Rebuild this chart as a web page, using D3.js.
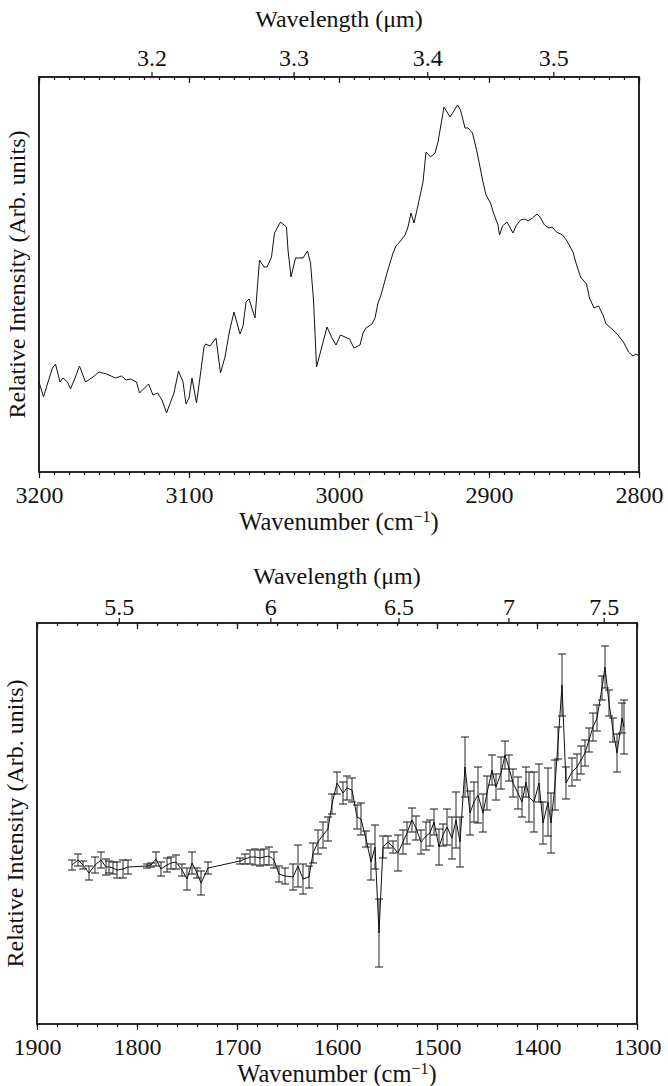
<!DOCTYPE html>
<html>
<head>
<meta charset="utf-8">
<script src="https://cdn.jsdelivr.net/npm/d3@7"></script>
<style>
  body { margin: 0; background: #fff; }
  svg text { font-family: "Liberation Serif", "DejaVu Serif", serif; fill: #111; }
</style>
</head>
<body>
<div id="chart"></div>
<script>
// ---- top panel: C-H stretch region (no error bars)
var chWavenumber = [3200,3197,3194,3191,3189,3186,3184,3181,3179,3176,3173,3169,3164,3160,3155,3149,3145,3142,3139,3135,
  3133,3127,3124,3121,3118,3115,3113,3110,3107,3104,3102,3100,3098,3095,3092,3090,3089,3086,3082,3079,
  3076,3073,3070,3066,3064,3062,3060,3056,3053,3050,3048,3045,3043,3039,3035,3034,3032,3029,3024,3021,
  3019,3017,3015,3012,3008,3005,3002,2999,2996,2993,2990,2986,2984,2982,2978,2976,2974,2972,2970,2968,
  2966,2964,2962,2959,2956,2954,2952,2950,2947,2944,2942,2939,2936,2934,2930,2926,2923,2921,2919,2916,
  2914,2911,2908,2904,2902,2899,2897,2894,2893,2891,2888,2884,2882,2879,2876,2874,2871,2868,2866,2863,
  2860,2858,2855,2851,2848,2844,2842,2839,2835,2833,2830,2827,2824,2822,2818,2814,2810,2807,2804,2802,2800];
var chIntensity = [0.90,0.75,0.90,1.04,1.08,0.90,0.94,0.90,0.83,0.94,1.06,0.90,0.95,1.00,0.98,0.94,0.96,0.92,0.93,0.90,
  0.79,0.88,0.77,0.79,0.72,0.59,0.67,0.79,1.01,0.90,0.68,0.74,0.94,0.69,1.02,1.25,1.28,1.26,1.34,0.99,
  1.15,1.41,1.60,1.38,1.46,1.70,1.73,1.54,2.12,2.05,2.05,2.15,2.39,2.50,2.45,2.22,1.95,2.14,2.14,2.21,
  2.09,1.72,1.05,1.22,1.45,1.35,1.27,1.37,1.35,1.33,1.24,1.27,1.39,1.44,1.48,1.54,1.69,1.77,1.88,1.99,
  2.09,2.19,2.26,2.31,2.37,2.45,2.59,2.49,2.69,2.90,3.20,3.15,3.19,3.30,3.65,3.55,3.62,3.67,3.62,3.44,
  3.44,3.39,3.20,2.90,2.77,2.69,2.59,2.47,2.37,2.46,2.50,2.39,2.46,2.52,2.53,2.51,2.54,2.58,2.55,2.47,
  2.44,2.45,2.40,2.37,2.31,2.20,2.09,1.95,1.88,1.74,1.64,1.66,1.57,1.48,1.43,1.37,1.29,1.20,1.16,1.18,1.16];
var chTicks = [3200,3100,3000,2900,2800];
var chWlTicks = [3.2,3.3,3.4,3.5];

// ---- bottom panel: fingerprint region (with error bars)
var fpWavenumber = [1865,1859,1854,1848,1842,1836,1831,1828,1824,1820,1814,1809,1790,1786,1781,1776,1770,1766,1761,1755,
  1750,1745,1740,1736,1729,1697,1692,1687,1682,1677,1673,1668,1663,1658,1652,1644,1639,1634,1628,1624,
  1619,1614,1609,1605,1600,1594,1590,1585,1580,1576,1571,1566,1562,1558,1554,1549,1544,1539,1534,1530,
  1525,1521,1516,1511,1507,1503,1498,1494,1490,1485,1481,1477,1472,1467,1463,1459,1454,1450,1445,1441,
  1436,1432,1428,1424,1419,1415,1411,1408,1403,1398,1394,1389,1386,1382,1379,1375,1371,1365,1360,1356,
  1352,1348,1344,1340,1335,1332,1328,1324,1320,1315,1313];
var fpIntensity = [1.59,1.64,1.59,1.51,1.59,1.64,1.57,1.57,1.56,1.54,1.55,1.57,1.58,1.59,1.65,1.55,1.59,1.61,1.62,1.54,
  1.45,1.61,1.51,1.41,1.56,1.63,1.65,1.67,1.67,1.66,1.67,1.68,1.64,1.50,1.48,1.47,1.58,1.45,1.47,1.71,
  1.82,1.89,1.95,2.20,2.41,2.31,2.36,2.34,2.07,2.05,1.85,1.62,1.77,0.91,1.77,1.82,1.77,1.71,1.82,1.91,
  2.04,1.96,1.82,1.88,1.91,2.02,1.77,1.89,1.97,1.86,2.04,1.82,2.57,2.11,2.22,2.29,2.11,2.31,2.54,2.37,
  2.51,2.69,2.56,2.41,2.31,2.22,2.42,2.27,2.22,2.41,2.01,2.22,2.01,2.39,2.81,3.39,2.41,2.52,2.57,2.64,
  2.71,2.84,2.97,3.06,3.36,3.57,3.21,2.94,2.71,3.06,2.97];
var fpError = [0.05,0.06,0.04,0.07,0.08,0.08,0.08,0.06,0.06,0.08,0.09,0.07,0.02,0.02,0.07,0.07,0.07,0.06,0.07,0.06,
  0.11,0.11,0.05,0.12,0.06,0.03,0.05,0.07,0.08,0.08,0.08,0.09,0.08,0.08,0.08,0.13,0.21,0.15,0.11,0.10,
  0.12,0.13,0.12,0.10,0.11,0.11,0.12,0.12,0.12,0.16,0.08,0.18,0.22,0.34,0.11,0.06,0.06,0.18,0.12,0.11,
  0.12,0.12,0.12,0.14,0.13,0.13,0.18,0.11,0.18,0.21,0.28,0.25,0.30,0.22,0.20,0.28,0.19,0.17,0.15,0.13,
  0.16,0.14,0.13,0.14,0.16,0.15,0.15,0.25,0.30,0.19,0.21,0.34,0.30,0.25,0.16,0.31,0.16,0.14,0.13,0.14,
  0.13,0.12,0.14,0.13,0.12,0.21,0.13,0.12,0.19,0.15,0.27];
var fpTicks = [1900,1800,1700,1600,1500,1400,1300];
var fpWlTicks = [5.5,6,6.5,7,7.5];

var W = 668, H = 1086;
var FONT = '"Liberation Serif", "DejaVu Serif", serif';
var svg = d3.select("#chart").append("svg")
    .attr("width", W)
    .attr("height", H)
    .attr("font-family", FONT);

function drawPanel(p) {
  var x = d3.scaleLinear().domain(p.xDomain).range([p.left, p.right]);
  var y = d3.scaleLinear().domain([0, p.yMax]).range([p.bottom, p.top]);
  // wavelength (um) = 10000 / wavenumber, so a pow scale with exponent -1 is linear in wavenumber
  var wl = d3.scalePow().exponent(-1)
      .domain([10000 / p.xDomain[0], 10000 / p.xDomain[1]])
      .range([p.left, p.right]);

  var g = svg.append("g");
  var minor = d3.range(p.xDomain[0], p.xDomain[1] - 0.1, -p.minorStep);

  // bottom axis, minor + major, ticks pointing out
  g.append("g").attr("class", "axis")
    .attr("transform", "translate(0," + p.bottom + ")")
    .call(d3.axisBottom(x).tickValues(minor).tickSize(3).tickFormat(""));
  g.append("g").attr("class", "axis")
    .attr("transform", "translate(0," + p.bottom + ")")
    .call(d3.axisBottom(x).tickValues(p.ticks).tickSize(6).tickPadding(8).tickFormat(d3.format("d")));

  // same wavenumber ticks mirrored inside the top edge
  g.append("g").attr("class", "axis")
    .attr("transform", "translate(0," + p.top + ")")
    .call(d3.axisBottom(x).tickValues(minor).tickSize(3).tickFormat(""));
  g.append("g").attr("class", "axis")
    .attr("transform", "translate(0," + p.top + ")")
    .call(d3.axisBottom(x).tickValues(p.ticks).tickSize(6).tickFormat(""));

  // wavelength axis on top
  g.append("g").attr("class", "axis")
    .attr("transform", "translate(0," + p.top + ")")
    .call(d3.axisTop(wl).tickValues(p.wlTicks).tickSize(5).tickPadding(p.wlPad).tickFormat(function(d) { return d; }));

  g.selectAll(".axis").attr("font-family", FONT);
  g.selectAll(".axis .domain").remove();
  g.selectAll(".axis line").attr("stroke", "#111").attr("stroke-width", 1.2);
  g.selectAll(".axis text").attr("font-size", 24).attr("fill", "#111");

  // frame
  g.append("rect")
    .attr("x", p.left).attr("y", p.top)
    .attr("width", p.right - p.left).attr("height", p.bottom - p.top)
    .attr("fill", "none").attr("stroke", "#111").attr("stroke-width", 1.8);

  var data = p.wn.map(function(d, i) {
    return { wn: d, v: p.val[i], e: p.err ? p.err[i] : 0 };
  });

  if (p.err) {
    var eb = g.append("g").attr("stroke", "#3a3a3a").attr("stroke-width", 1.1);
    eb.selectAll(".bar").data(data).enter().append("line")
      .attr("x1", function(d) { return x(d.wn); })
      .attr("x2", function(d) { return x(d.wn); })
      .attr("y1", function(d) { return y(d.v - d.e); })
      .attr("y2", function(d) { return y(d.v + d.e); });
    [-1, 1].forEach(function(s) {
      eb.selectAll(".cap" + s).data(data).enter().append("line")
        .attr("stroke", "#2a2a2a")
        .attr("x1", function(d) { return x(d.wn) - 4; })
        .attr("x2", function(d) { return x(d.wn) + 4; })
        .attr("y1", function(d) { return y(d.v + s * d.e); })
        .attr("y2", function(d) { return y(d.v + s * d.e); });
    });
  }

  g.append("path")
    .datum(data)
    .attr("fill", "none")
    .attr("stroke", "#111")
    .attr("stroke-width", 1)
    .attr("d", d3.line()
      .x(function(d) { return x(d.wn); })
      .y(function(d) { return y(d.v); }));

  // titles
  var cx = (p.left + p.right) / 2;
  g.append("text").attr("x", cx).attr("y", p.top - p.titleGap)
    .attr("text-anchor", "middle").attr("font-size", 24)
    .text("Wavelength (\u03bcm)");
  var xt = g.append("text").attr("x", cx).attr("y", p.bottom + 58)
    .attr("text-anchor", "middle").attr("font-size", 24.5);
  xt.append("tspan").text("Wavenumber (cm");
  xt.append("tspan").attr("dy", -8).attr("font-size", 16).text("\u22121");
  xt.append("tspan").attr("dy", 8).text(")");
  g.append("text")
    .attr("transform", "translate(" + (p.left - 14) + "," + ((p.top + p.bottom) / 2) + ") rotate(-90)")
    .attr("text-anchor", "middle").attr("font-size", 24)
    .text("Relative Intensity (Arb. units)");
}

drawPanel({
  left: 39, right: 639, top: 77, bottom: 472, yMax: 3.95,
  xDomain: [3200, 2800], minorStep: 10,
  ticks: chTicks, wlTicks: chWlTicks, wlPad: 6, titleGap: 50,
  wn: chWavenumber, val: chIntensity
});

drawPanel({
  left: 37, right: 637, top: 623, bottom: 1024, yMax: 4.01,
  xDomain: [1900, 1300], minorStep: 20,
  ticks: fpTicks, wlTicks: fpWlTicks, wlPad: 3, titleGap: 39,
  wn: fpWavenumber, val: fpIntensity, err: fpError
});
</script>
</body>
</html>
